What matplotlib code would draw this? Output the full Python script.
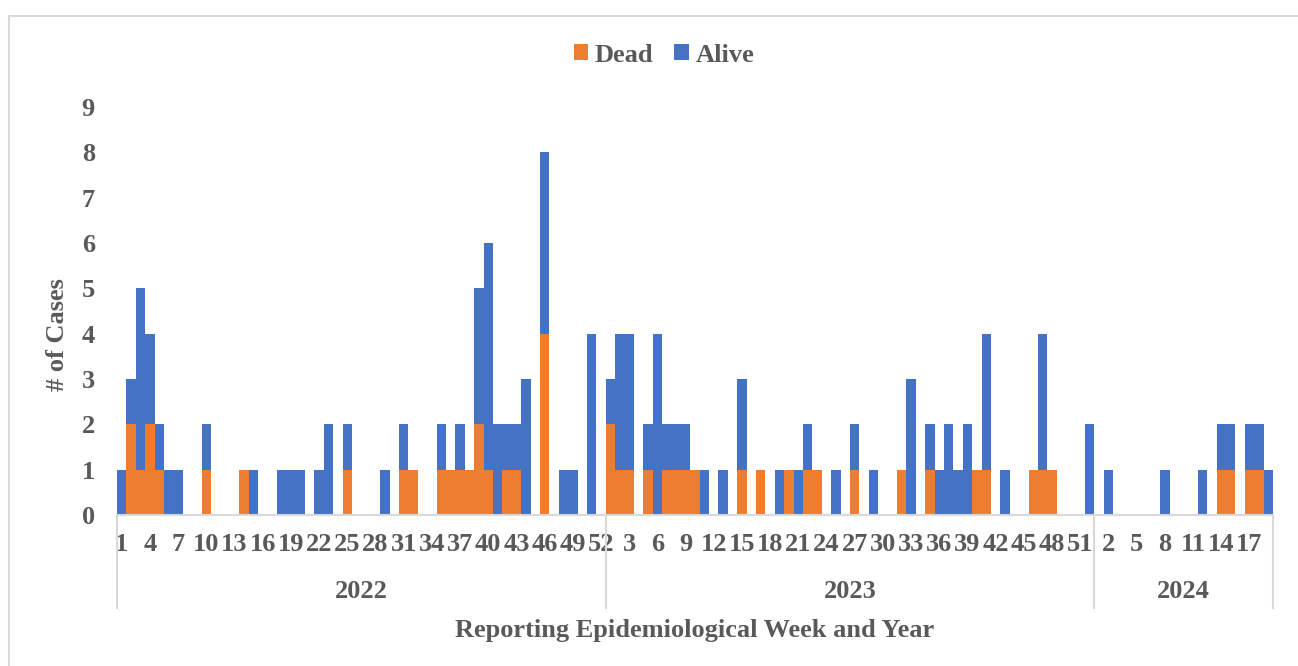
import numpy as np
import matplotlib
matplotlib.use('Agg')
import matplotlib.pyplot as plt
from matplotlib.patches import Rectangle

years = ['2022', '2023', '2024']
weeks_per_year = [52, 52, 19]

dead_2022 = [0, 2, 1, 2, 1, 0, 0, 0, 0, 1,
             0, 0, 0, 1, 0, 0, 0, 0, 0, 0,
             0, 0, 0, 0, 1, 0, 0, 0, 0, 0,
             1, 1, 0, 0, 1, 1, 1, 1, 2, 1,
             0, 1, 1, 0, 0, 4, 0, 0, 0, 0,
             0, 0]
alive_2022 = [1, 1, 4, 2, 1, 1, 1, 0, 0, 1,
              0, 0, 0, 0, 1, 0, 0, 1, 1, 1,
              0, 1, 2, 0, 1, 0, 0, 0, 1, 0,
              1, 0, 0, 0, 1, 0, 1, 0, 3, 5,
              2, 1, 1, 3, 0, 4, 0, 1, 1, 0,
              4, 0]
dead_2023 = [2, 1, 1, 0, 1, 0, 1, 1, 1, 1,
             0, 0, 0, 0, 1, 0, 1, 0, 0, 1,
             0, 1, 1, 0, 0, 0, 1, 0, 0, 0,
             0, 1, 0, 0, 1, 0, 0, 0, 0, 1,
             1, 0, 0, 0, 0, 1, 1, 1, 0, 0,
             0, 0]
alive_2023 = [1, 3, 3, 0, 1, 4, 1, 1, 1, 0,
              1, 0, 1, 0, 2, 0, 0, 0, 1, 0,
              1, 1, 0, 0, 1, 0, 1, 0, 1, 0,
              0, 0, 3, 0, 1, 1, 2, 1, 2, 0,
              3, 0, 1, 0, 0, 0, 3, 0, 0, 0,
              0, 2]
dead_2024 = [0, 0, 0, 0, 0, 0, 0, 0, 0, 0,
             0, 0, 0, 1, 1, 0, 1, 1, 0]
alive_2024 = [0, 1, 0, 0, 0, 0, 0, 1, 0, 0,
              0, 1, 0, 1, 1, 0, 1, 1, 1]

dead = np.array(dead_2022 + dead_2023 + dead_2024)
alive = np.array(alive_2022 + alive_2023 + alive_2024)
week_labels = []
for n in weeks_per_year:
    week_labels += [str(w) for w in range(1, n + 1)]
x = np.arange(len(dead))

plt.rcParams['font.family'] = ['Liberation Serif', 'DejaVu Serif']
plt.rcParams['font.weight'] = 'bold'
txt = '#595959'
fs = 19

fig = plt.figure(figsize=(12.98, 6.66), dpi=100)
fig.patches.append(Rectangle((9 / 1298, -0.1), 1.2, 1 - 16 / 666 + 0.1,
                             transform=fig.transFigure, fill=False,
                             edgecolor='#d9d9d9', linewidth=1.5))
ax = fig.add_axes([117 / 1298, 1 - 515 / 666, (1273 - 117) / 1298, (515 - 107) / 666])

ax.bar(x, dead, width=1.0, color='#ED7D31', label='Dead', linewidth=0)
ax.bar(x, alive, width=1.0, bottom=dead, color='#4472C4', label='Alive', linewidth=0)

ax.set_xlim(-0.5, len(x) - 0.5)
ax.set_ylim(0, 9)
ax.set_yticks(range(10))
ax.tick_params(axis='y', length=0, pad=16, labelsize=fs, labelcolor=txt)
ax.set_xticks(x[::3])
ax.set_xticklabels(week_labels[::3])
ax.tick_params(axis='x', length=0, pad=13, labelsize=fs, labelcolor=txt)

for s in ['top', 'right', 'left']:
    ax.spines[s].set_visible(False)
ax.spines['bottom'].set_color('#d9d9d9')
ax.spines['bottom'].set_linewidth(1.5)

# year groups under the week labels
trans = ax.get_xaxis_transform()
edges = np.concatenate([[0], np.cumsum(weeks_per_year)]) - 0.5
for e in edges:
    ax.plot([e, e], [0, -93 / 408], transform=trans, color='#d9d9d9',
            linewidth=1.5, clip_on=False)
for i, yr in enumerate(years):
    ax.text((edges[i] + edges[i + 1]) / 2, -77 / 408, yr, transform=trans,
            ha='center', va='center', fontsize=fs, color=txt, fontweight='bold')

fig.text((117 + 1273) / 2 / 1298 - 0.0, 1 - 631 / 666,
         'Reporting Epidemiological Week and Year', ha='center', va='center',
         fontsize=fs, color=txt, fontweight='bold')
fig.text(58 / 1298, 1 - 335 / 666, '# of Cases', rotation=90, ha='center',
         va='center', fontsize=fs, color=txt, fontweight='bold')

leg = fig.legend(loc='center', bbox_to_anchor=(664 / 1298, 1 - 55 / 666), ncol=2,
                 frameon=False, fontsize=fs, handlelength=0.55, handleheight=0.55,
                 handletextpad=0.25, columnspacing=0.8)
for t in leg.get_texts():
    t.set_color(txt)

plt.savefig('out.png', dpi=100)
plt.close()
